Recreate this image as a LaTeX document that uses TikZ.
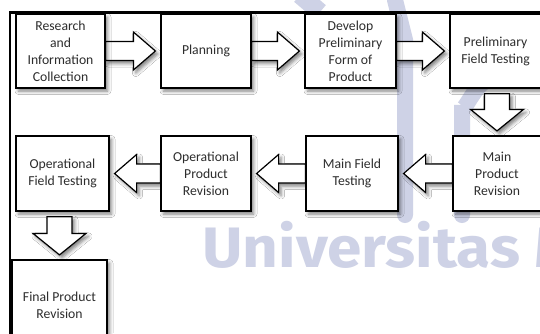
\documentclass[tikz,border=0pt]{standalone}
\usepackage{fontspec}
\setmainfont{Carlito}
\newfontfamily\markfont{Fira Sans}
\usetikzlibrary{positioning,calc,shadows.blur}

\definecolor{markblue}{RGB}{206,210,230}
\definecolor{inkgray}{RGB}{45,45,45}

\pgfdeclarelayer{mark}
\pgfdeclarelayer{background}
\pgfsetlayers{mark,background,main}

\tikzset{
  softshadow/.style={blur shadow={shadow xshift=2.5pt, shadow yshift=-3pt,
      shadow blur radius=3.5pt, shadow opacity=50}},
  stage/.style={draw=black, line width=1.2pt, fill=white, softshadow,
      minimum width=90pt, minimum height=75pt, inner sep=0pt, align=center,
      text=inkgray, font=\fontsize{13.7}{17}\selectfont},
  barrow/.style={draw=black, line width=1.2pt, fill=white, line join=miter, softshadow},
}

% block arrows between two stages
\newcommand{\rightarr}[2]{%
  \draw[barrow] ([yshift=9.5pt]#1.east) -- ($(#2.west)+(-27pt,9.5pt)$)
    -- ($(#2.west)+(-27pt,19pt)$) -- ($(#2.west)+(-5pt,0pt)$)
    -- ($(#2.west)+(-27pt,-19pt)$) -- ($(#2.west)+(-27pt,-9.5pt)$)
    -- ([yshift=-9.5pt]#1.east) -- cycle;}
\newcommand{\leftarr}[2]{%
  \draw[barrow] ([yshift=9.5pt]#1.west) -- ($(#2.east)+(27pt,9.5pt)$)
    -- ($(#2.east)+(27pt,19pt)$) -- ($(#2.east)+(5pt,0pt)$)
    -- ($(#2.east)+(27pt,-19pt)$) -- ($(#2.east)+(27pt,-9.5pt)$)
    -- ([yshift=-9.5pt]#1.west) -- cycle;}
\newcommand{\downarr}[2]{%
  \draw[barrow] ($(#2.north |- #1.south)+(-12.5pt,-5pt)$) -- ($(#2.north)+(-12.5pt,26pt)$)
    -- ($(#2.north)+(-26.5pt,26pt)$) -- ($(#2.north)+(0pt,4.5pt)$)
    -- ($(#2.north)+(26.5pt,26pt)$) -- ($(#2.north)+(12.5pt,26pt)$)
    -- ($(#2.north |- #1.south)+(12.5pt,-5pt)$) -- cycle;}

\begin{document}
\begin{tikzpicture}[x=1pt,y=-1pt]
  \useasboundingbox (0,0) rectangle (540,333);

  % first row
  \node[stage, minimum width=89pt, minimum height=74pt] (research) at (60.5,51) {Research\\and\\Information\\Collection};
  \node[stage, minimum height=74pt] (planning) at (206,51) {Planning};
  \node[stage, minimum width=91pt, minimum height=74pt] (develop) at (350.5,51) {Develop\\Preliminary\\Form of\\Product};
  \node[stage, minimum width=91pt, minimum height=74pt] (prelim) at (495.5,51) {Preliminary\\Field Testing};

  % second row, right to left
  \node[stage, minimum width=88pt] (mainrev) at (497,173.5) {Main\\Product\\Revision};
  \node[stage, minimum width=92pt] (mainfield) at (352,173.5) {Main Field\\Testing};
  \node[stage] (oprev) at (206,173.5) {Operational\\Product\\Revision};
  \node[stage, minimum width=93pt] (opfield) at (62.5,173.5) {Operational\\Field Testing};

  % last stage
  \node[stage, minimum width=95pt, minimum height=90pt] (final) at (59.5,305) {Final Product\\Revision};

  \begin{pgfonlayer}{background}
    \rightarr{research}{planning}
    \rightarr{planning}{develop}
    \rightarr{develop}{prelim}
    \downarr{prelim}{mainrev}
    \leftarr{mainrev}{mainfield}
    \leftarr{mainfield}{oprev}
    \leftarr{oprev}{opfield}
    \downarr{opfield}{final}
  \end{pgfonlayer}

  % watermark behind everything
  \begin{pgfonlayer}{mark}
    \fill[white] (0,0) rectangle (540,333);
    \draw[markblue, line width=16pt, line cap=round] (405,215) -- (405,40) -- (395,0);
    \draw[markblue, line width=16pt, line cap=round] (462,215) -- (462,105) to[out=-90,in=180] (490,80);
    \draw[markblue, line width=18pt] (300,-5) -- (320,12);
    \node[anchor=base west, inner sep=0pt, text=markblue,
      font=\markfont\bfseries\fontsize{57}{57}\selectfont] (mark) at (202,267) {\scalebox{1.09}[1]{Universitas M}};
  \end{pgfonlayer}

  % frame
  \draw[line width=2.7pt] (540,12.5) -- (10,12.5) -- (10,340);
\end{tikzpicture}
\end{document}
